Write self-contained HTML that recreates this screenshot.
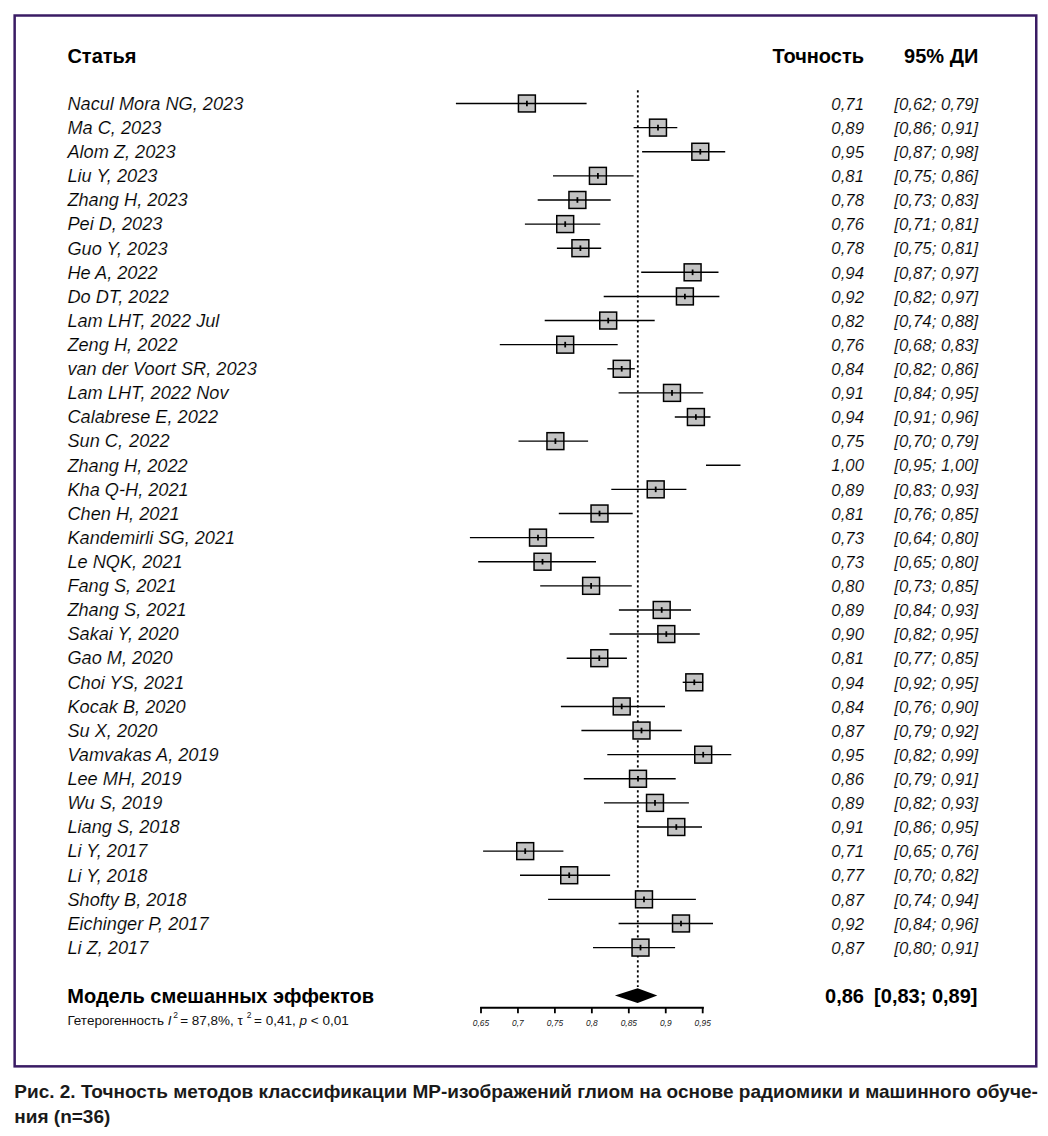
<!DOCTYPE html><html><head><meta charset="utf-8"><style>html,body{margin:0;padding:0;background:#fff;}svg{display:block}</style></head><body>
<svg width="1048" height="1136" viewBox="0 0 1048 1136">
<rect x="14.65" y="15.5" width="1021.6" height="1050.85" fill="none" stroke="#3a1c64" stroke-width="2.5"/>
<g font-family="Liberation Sans" font-weight="bold" font-size="20" fill="#000">
<text x="67.4" y="62.7">Статья</text>
<text x="864.0" y="62.7" text-anchor="end">Точность</text>
<text x="978.3" y="62.7" text-anchor="end">95% ДИ</text>
</g>
<g font-family="Liberation Sans" font-style="italic" fill="#000" stroke="#fff" stroke-width="0.15">
<text x="67.4" y="109.80" font-size="18.2">Nacul Mora NG, 2023</text>
<text x="864.0" y="109.70" font-size="16.8" text-anchor="end">0,71</text>
<text x="978.3" y="109.70" font-size="16.8" text-anchor="end">[0,62; 0,79]</text>
<text x="67.4" y="133.92" font-size="18.2">Ma C, 2023</text>
<text x="864.0" y="133.82" font-size="16.8" text-anchor="end">0,89</text>
<text x="978.3" y="133.82" font-size="16.8" text-anchor="end">[0,86; 0,91]</text>
<text x="67.4" y="158.03" font-size="18.2">Alom Z, 2023</text>
<text x="864.0" y="157.93" font-size="16.8" text-anchor="end">0,95</text>
<text x="978.3" y="157.93" font-size="16.8" text-anchor="end">[0,87; 0,98]</text>
<text x="67.4" y="182.15" font-size="18.2">Liu Y, 2023</text>
<text x="864.0" y="182.05" font-size="16.8" text-anchor="end">0,81</text>
<text x="978.3" y="182.05" font-size="16.8" text-anchor="end">[0,75; 0,86]</text>
<text x="67.4" y="206.27" font-size="18.2">Zhang H, 2023</text>
<text x="864.0" y="206.17" font-size="16.8" text-anchor="end">0,78</text>
<text x="978.3" y="206.17" font-size="16.8" text-anchor="end">[0,73; 0,83]</text>
<text x="67.4" y="230.39" font-size="18.2">Pei D, 2023</text>
<text x="864.0" y="230.28" font-size="16.8" text-anchor="end">0,76</text>
<text x="978.3" y="230.28" font-size="16.8" text-anchor="end">[0,71; 0,81]</text>
<text x="67.4" y="254.50" font-size="18.2">Guo Y, 2023</text>
<text x="864.0" y="254.40" font-size="16.8" text-anchor="end">0,78</text>
<text x="978.3" y="254.40" font-size="16.8" text-anchor="end">[0,75; 0,81]</text>
<text x="67.4" y="278.62" font-size="18.2">He A, 2022</text>
<text x="864.0" y="278.52" font-size="16.8" text-anchor="end">0,94</text>
<text x="978.3" y="278.52" font-size="16.8" text-anchor="end">[0,87; 0,97]</text>
<text x="67.4" y="302.74" font-size="18.2">Do DT, 2022</text>
<text x="864.0" y="302.64" font-size="16.8" text-anchor="end">0,92</text>
<text x="978.3" y="302.64" font-size="16.8" text-anchor="end">[0,82; 0,97]</text>
<text x="67.4" y="326.85" font-size="18.2">Lam LHT, 2022 Jul</text>
<text x="864.0" y="326.75" font-size="16.8" text-anchor="end">0,82</text>
<text x="978.3" y="326.75" font-size="16.8" text-anchor="end">[0,74; 0,88]</text>
<text x="67.4" y="350.97" font-size="18.2">Zeng H, 2022</text>
<text x="864.0" y="350.87" font-size="16.8" text-anchor="end">0,76</text>
<text x="978.3" y="350.87" font-size="16.8" text-anchor="end">[0,68; 0,83]</text>
<text x="67.4" y="375.09" font-size="18.2">van der Voort SR, 2023</text>
<text x="864.0" y="374.99" font-size="16.8" text-anchor="end">0,84</text>
<text x="978.3" y="374.99" font-size="16.8" text-anchor="end">[0,82; 0,86]</text>
<text x="67.4" y="399.20" font-size="18.2">Lam LHT, 2022 Nov</text>
<text x="864.0" y="399.10" font-size="16.8" text-anchor="end">0,91</text>
<text x="978.3" y="399.10" font-size="16.8" text-anchor="end">[0,84; 0,95]</text>
<text x="67.4" y="423.32" font-size="18.2">Calabrese E, 2022</text>
<text x="864.0" y="423.22" font-size="16.8" text-anchor="end">0,94</text>
<text x="978.3" y="423.22" font-size="16.8" text-anchor="end">[0,91; 0,96]</text>
<text x="67.4" y="447.44" font-size="18.2">Sun C,<tspan dx="1"> 2022</tspan></text>
<text x="864.0" y="447.34" font-size="16.8" text-anchor="end">0,75</text>
<text x="978.3" y="447.34" font-size="16.8" text-anchor="end">[0,70; 0,79]</text>
<text x="67.4" y="471.56" font-size="18.2">Zhang H, 2022</text>
<text x="864.0" y="471.45" font-size="16.8" text-anchor="end">1,00</text>
<text x="978.3" y="471.45" font-size="16.8" text-anchor="end">[0,95; 1,00]</text>
<text x="67.4" y="495.67" font-size="18.2">Kha Q-H, 2021</text>
<text x="864.0" y="495.57" font-size="16.8" text-anchor="end">0,89</text>
<text x="978.3" y="495.57" font-size="16.8" text-anchor="end">[0,83; 0,93]</text>
<text x="67.4" y="519.79" font-size="18.2">Chen H, 2021</text>
<text x="864.0" y="519.69" font-size="16.8" text-anchor="end">0,81</text>
<text x="978.3" y="519.69" font-size="16.8" text-anchor="end">[0,76; 0,85]</text>
<text x="67.4" y="543.91" font-size="18.2">Kandemirli SG, 2021</text>
<text x="864.0" y="543.81" font-size="16.8" text-anchor="end">0,73</text>
<text x="978.3" y="543.81" font-size="16.8" text-anchor="end">[0,64; 0,80]</text>
<text x="67.4" y="568.02" font-size="18.2">Le NQK, 2021</text>
<text x="864.0" y="567.92" font-size="16.8" text-anchor="end">0,73</text>
<text x="978.3" y="567.92" font-size="16.8" text-anchor="end">[0,65; 0,80]</text>
<text x="67.4" y="592.14" font-size="18.2">Fang S, 2021</text>
<text x="864.0" y="592.04" font-size="16.8" text-anchor="end">0,80</text>
<text x="978.3" y="592.04" font-size="16.8" text-anchor="end">[0,73; 0,85]</text>
<text x="67.4" y="616.26" font-size="18.2">Zhang S, 2021</text>
<text x="864.0" y="616.16" font-size="16.8" text-anchor="end">0,89</text>
<text x="978.3" y="616.16" font-size="16.8" text-anchor="end">[0,84; 0,93]</text>
<text x="67.4" y="640.37" font-size="18.2">Sakai Y, 2020</text>
<text x="864.0" y="640.27" font-size="16.8" text-anchor="end">0,90</text>
<text x="978.3" y="640.27" font-size="16.8" text-anchor="end">[0,82; 0,95]</text>
<text x="67.4" y="664.49" font-size="18.2">Gao M, 2020</text>
<text x="864.0" y="664.39" font-size="16.8" text-anchor="end">0,81</text>
<text x="978.3" y="664.39" font-size="16.8" text-anchor="end">[0,77; 0,85]</text>
<text x="67.4" y="688.61" font-size="18.2">Choi YS, 2021</text>
<text x="864.0" y="688.51" font-size="16.8" text-anchor="end">0,94</text>
<text x="978.3" y="688.51" font-size="16.8" text-anchor="end">[0,92; 0,95]</text>
<text x="67.4" y="712.73" font-size="18.2">Kocak B, 2020</text>
<text x="864.0" y="712.63" font-size="16.8" text-anchor="end">0,84</text>
<text x="978.3" y="712.63" font-size="16.8" text-anchor="end">[0,76; 0,90]</text>
<text x="67.4" y="736.84" font-size="18.2">Su X, 2020</text>
<text x="864.0" y="736.74" font-size="16.8" text-anchor="end">0,87</text>
<text x="978.3" y="736.74" font-size="16.8" text-anchor="end">[0,79; 0,92]</text>
<text x="67.4" y="760.96" font-size="18.2">Vamvakas A, 2019</text>
<text x="864.0" y="760.86" font-size="16.8" text-anchor="end">0,95</text>
<text x="978.3" y="760.86" font-size="16.8" text-anchor="end">[0,82; 0,99]</text>
<text x="67.4" y="785.08" font-size="18.2">Lee MH, 2019</text>
<text x="864.0" y="784.98" font-size="16.8" text-anchor="end">0,86</text>
<text x="978.3" y="784.98" font-size="16.8" text-anchor="end">[0,79; 0,91]</text>
<text x="67.4" y="809.19" font-size="18.2">Wu S, 2019</text>
<text x="864.0" y="809.09" font-size="16.8" text-anchor="end">0,89</text>
<text x="978.3" y="809.09" font-size="16.8" text-anchor="end">[0,82; 0,93]</text>
<text x="67.4" y="833.31" font-size="18.2">Liang S, 2018</text>
<text x="864.0" y="833.21" font-size="16.8" text-anchor="end">0,91</text>
<text x="978.3" y="833.21" font-size="16.8" text-anchor="end">[0,86; 0,95]</text>
<text x="67.4" y="857.43" font-size="18.2">Li Y, 2017</text>
<text x="864.0" y="857.33" font-size="16.8" text-anchor="end">0,71</text>
<text x="978.3" y="857.33" font-size="16.8" text-anchor="end">[0,65; 0,76]</text>
<text x="67.4" y="881.54" font-size="18.2">Li Y, 2018</text>
<text x="864.0" y="881.44" font-size="16.8" text-anchor="end">0,77</text>
<text x="978.3" y="881.44" font-size="16.8" text-anchor="end">[0,70; 0,82]</text>
<text x="67.4" y="905.66" font-size="18.2">Shofty B, 2018</text>
<text x="864.0" y="905.56" font-size="16.8" text-anchor="end">0,87</text>
<text x="978.3" y="905.56" font-size="16.8" text-anchor="end">[0,74; 0,94]</text>
<text x="67.4" y="929.78" font-size="18.2">Eichinger P, 2017</text>
<text x="864.0" y="929.68" font-size="16.8" text-anchor="end">0,92</text>
<text x="978.3" y="929.68" font-size="16.8" text-anchor="end">[0,84; 0,96]</text>
<text x="67.4" y="953.89" font-size="18.2">Li Z, 2017</text>
<text x="864.0" y="953.80" font-size="16.8" text-anchor="end">0,87</text>
<text x="978.3" y="953.80" font-size="16.8" text-anchor="end">[0,80; 0,91]</text>
</g>
<line x1="637.8" y1="90.3" x2="637.8" y2="987" stroke="#000" stroke-width="1.8" stroke-dasharray="2.2 2.8"/>
<rect x="518.45" y="95.05" width="16.9" height="16.9" fill="#c3c3c3" stroke="#000" stroke-width="1.5"/>
<line x1="455.9" y1="103.50" x2="586.6" y2="103.50" stroke="#000" stroke-width="1.4"/>
<line x1="526.90" y1="100.70" x2="526.90" y2="106.30" stroke="#000" stroke-width="1.8"/>
<rect x="649.55" y="119.17" width="16.9" height="16.9" fill="#c3c3c3" stroke="#000" stroke-width="1.5"/>
<line x1="633.6" y1="127.62" x2="677.3" y2="127.62" stroke="#000" stroke-width="1.4"/>
<line x1="658.00" y1="124.82" x2="658.00" y2="130.42" stroke="#000" stroke-width="1.8"/>
<rect x="691.85" y="143.28" width="16.9" height="16.9" fill="#c3c3c3" stroke="#000" stroke-width="1.5"/>
<line x1="642.1" y1="151.73" x2="725.2" y2="151.73" stroke="#000" stroke-width="1.4"/>
<line x1="700.30" y1="148.93" x2="700.30" y2="154.53" stroke="#000" stroke-width="1.8"/>
<rect x="589.45" y="167.40" width="16.9" height="16.9" fill="#c3c3c3" stroke="#000" stroke-width="1.5"/>
<line x1="553.0" y1="175.85" x2="633.6" y2="175.85" stroke="#000" stroke-width="1.4"/>
<line x1="597.90" y1="173.05" x2="597.90" y2="178.65" stroke="#000" stroke-width="1.8"/>
<rect x="568.95" y="191.52" width="16.9" height="16.9" fill="#c3c3c3" stroke="#000" stroke-width="1.5"/>
<line x1="537.7" y1="199.97" x2="610.7" y2="199.97" stroke="#000" stroke-width="1.4"/>
<line x1="577.40" y1="197.17" x2="577.40" y2="202.77" stroke="#000" stroke-width="1.8"/>
<rect x="556.75" y="215.64" width="16.9" height="16.9" fill="#c3c3c3" stroke="#000" stroke-width="1.5"/>
<line x1="524.9" y1="224.09" x2="600.3" y2="224.09" stroke="#000" stroke-width="1.4"/>
<line x1="565.20" y1="221.28" x2="565.20" y2="226.89" stroke="#000" stroke-width="1.8"/>
<rect x="571.95" y="239.75" width="16.9" height="16.9" fill="#c3c3c3" stroke="#000" stroke-width="1.5"/>
<line x1="556.9" y1="248.20" x2="601.2" y2="248.20" stroke="#000" stroke-width="1.4"/>
<line x1="580.40" y1="245.40" x2="580.40" y2="251.00" stroke="#000" stroke-width="1.8"/>
<rect x="684.15" y="263.87" width="16.9" height="16.9" fill="#c3c3c3" stroke="#000" stroke-width="1.5"/>
<line x1="641.2" y1="272.32" x2="718.5" y2="272.32" stroke="#000" stroke-width="1.4"/>
<line x1="692.60" y1="269.52" x2="692.60" y2="275.12" stroke="#000" stroke-width="1.8"/>
<rect x="676.45" y="287.99" width="16.9" height="16.9" fill="#c3c3c3" stroke="#000" stroke-width="1.5"/>
<line x1="603.7" y1="296.44" x2="719.4" y2="296.44" stroke="#000" stroke-width="1.4"/>
<line x1="684.90" y1="293.64" x2="684.90" y2="299.24" stroke="#000" stroke-width="1.8"/>
<rect x="599.75" y="312.10" width="16.9" height="16.9" fill="#c3c3c3" stroke="#000" stroke-width="1.5"/>
<line x1="544.7" y1="320.55" x2="654.7" y2="320.55" stroke="#000" stroke-width="1.4"/>
<line x1="608.20" y1="317.75" x2="608.20" y2="323.35" stroke="#000" stroke-width="1.8"/>
<rect x="556.75" y="336.22" width="16.9" height="16.9" fill="#c3c3c3" stroke="#000" stroke-width="1.5"/>
<line x1="499.8" y1="344.67" x2="617.7" y2="344.67" stroke="#000" stroke-width="1.4"/>
<line x1="565.20" y1="341.87" x2="565.20" y2="347.47" stroke="#000" stroke-width="1.8"/>
<rect x="613.25" y="360.34" width="16.9" height="16.9" fill="#c3c3c3" stroke="#000" stroke-width="1.5"/>
<line x1="607.3" y1="368.79" x2="634.8" y2="368.79" stroke="#000" stroke-width="1.4"/>
<line x1="621.70" y1="365.99" x2="621.70" y2="371.59" stroke="#000" stroke-width="1.8"/>
<rect x="663.55" y="384.45" width="16.9" height="16.9" fill="#c3c3c3" stroke="#000" stroke-width="1.5"/>
<line x1="618.6" y1="392.90" x2="703.2" y2="392.90" stroke="#000" stroke-width="1.4"/>
<line x1="672.00" y1="390.10" x2="672.00" y2="395.70" stroke="#000" stroke-width="1.8"/>
<rect x="687.45" y="408.57" width="16.9" height="16.9" fill="#c3c3c3" stroke="#000" stroke-width="1.5"/>
<line x1="674.8" y1="417.02" x2="710.5" y2="417.02" stroke="#000" stroke-width="1.4"/>
<line x1="695.90" y1="414.22" x2="695.90" y2="419.82" stroke="#000" stroke-width="1.8"/>
<rect x="546.95" y="432.69" width="16.9" height="16.9" fill="#c3c3c3" stroke="#000" stroke-width="1.5"/>
<line x1="518.5" y1="441.14" x2="588.1" y2="441.14" stroke="#000" stroke-width="1.4"/>
<line x1="555.40" y1="438.34" x2="555.40" y2="443.94" stroke="#000" stroke-width="1.8"/>
<line x1="706.0" y1="465.25" x2="740.5" y2="465.25" stroke="#000" stroke-width="1.4"/>
<rect x="647.25" y="480.92" width="16.9" height="16.9" fill="#c3c3c3" stroke="#000" stroke-width="1.5"/>
<line x1="611.3" y1="489.37" x2="686.4" y2="489.37" stroke="#000" stroke-width="1.4"/>
<line x1="655.70" y1="486.57" x2="655.70" y2="492.17" stroke="#000" stroke-width="1.8"/>
<rect x="591.05" y="505.04" width="16.9" height="16.9" fill="#c3c3c3" stroke="#000" stroke-width="1.5"/>
<line x1="558.8" y1="513.49" x2="632.7" y2="513.49" stroke="#000" stroke-width="1.4"/>
<line x1="599.50" y1="510.69" x2="599.50" y2="516.29" stroke="#000" stroke-width="1.8"/>
<rect x="529.55" y="529.16" width="16.9" height="16.9" fill="#c3c3c3" stroke="#000" stroke-width="1.5"/>
<line x1="469.9" y1="537.61" x2="594.2" y2="537.61" stroke="#000" stroke-width="1.4"/>
<line x1="538.00" y1="534.81" x2="538.00" y2="540.41" stroke="#000" stroke-width="1.8"/>
<rect x="534.05" y="553.27" width="16.9" height="16.9" fill="#c3c3c3" stroke="#000" stroke-width="1.5"/>
<line x1="478.2" y1="561.72" x2="596.0" y2="561.72" stroke="#000" stroke-width="1.4"/>
<line x1="542.50" y1="558.92" x2="542.50" y2="564.52" stroke="#000" stroke-width="1.8"/>
<rect x="582.65" y="577.39" width="16.9" height="16.9" fill="#c3c3c3" stroke="#000" stroke-width="1.5"/>
<line x1="540.2" y1="585.84" x2="631.8" y2="585.84" stroke="#000" stroke-width="1.4"/>
<line x1="591.10" y1="583.04" x2="591.10" y2="588.64" stroke="#000" stroke-width="1.8"/>
<rect x="653.25" y="601.51" width="16.9" height="16.9" fill="#c3c3c3" stroke="#000" stroke-width="1.5"/>
<line x1="618.9" y1="609.96" x2="691.0" y2="609.96" stroke="#000" stroke-width="1.4"/>
<line x1="661.70" y1="607.16" x2="661.70" y2="612.76" stroke="#000" stroke-width="1.8"/>
<rect x="657.85" y="625.62" width="16.9" height="16.9" fill="#c3c3c3" stroke="#000" stroke-width="1.5"/>
<line x1="609.5" y1="634.07" x2="699.8" y2="634.07" stroke="#000" stroke-width="1.4"/>
<line x1="666.30" y1="631.27" x2="666.30" y2="636.87" stroke="#000" stroke-width="1.8"/>
<rect x="590.85" y="649.74" width="16.9" height="16.9" fill="#c3c3c3" stroke="#000" stroke-width="1.5"/>
<line x1="566.7" y1="658.19" x2="626.9" y2="658.19" stroke="#000" stroke-width="1.4"/>
<line x1="599.30" y1="655.39" x2="599.30" y2="660.99" stroke="#000" stroke-width="1.8"/>
<rect x="685.85" y="673.86" width="16.9" height="16.9" fill="#c3c3c3" stroke="#000" stroke-width="1.5"/>
<line x1="682.7" y1="682.31" x2="703.2" y2="682.31" stroke="#000" stroke-width="1.4"/>
<line x1="694.30" y1="679.51" x2="694.30" y2="685.11" stroke="#000" stroke-width="1.8"/>
<rect x="613.25" y="697.98" width="16.9" height="16.9" fill="#c3c3c3" stroke="#000" stroke-width="1.5"/>
<line x1="560.9" y1="706.43" x2="665.0" y2="706.43" stroke="#000" stroke-width="1.4"/>
<line x1="621.70" y1="703.63" x2="621.70" y2="709.23" stroke="#000" stroke-width="1.8"/>
<rect x="633.05" y="722.09" width="16.9" height="16.9" fill="#c3c3c3" stroke="#000" stroke-width="1.5"/>
<line x1="581.4" y1="730.54" x2="681.8" y2="730.54" stroke="#000" stroke-width="1.4"/>
<line x1="641.50" y1="727.74" x2="641.50" y2="733.34" stroke="#000" stroke-width="1.8"/>
<rect x="694.75" y="746.21" width="16.9" height="16.9" fill="#c3c3c3" stroke="#000" stroke-width="1.5"/>
<line x1="607.3" y1="754.66" x2="731.3" y2="754.66" stroke="#000" stroke-width="1.4"/>
<line x1="703.20" y1="751.86" x2="703.20" y2="757.46" stroke="#000" stroke-width="1.8"/>
<rect x="629.55" y="770.33" width="16.9" height="16.9" fill="#c3c3c3" stroke="#000" stroke-width="1.5"/>
<line x1="583.8" y1="778.78" x2="675.7" y2="778.78" stroke="#000" stroke-width="1.4"/>
<line x1="638.00" y1="775.98" x2="638.00" y2="781.58" stroke="#000" stroke-width="1.8"/>
<rect x="646.55" y="794.44" width="16.9" height="16.9" fill="#c3c3c3" stroke="#000" stroke-width="1.5"/>
<line x1="604.0" y1="802.89" x2="688.9" y2="802.89" stroke="#000" stroke-width="1.4"/>
<line x1="655.00" y1="800.09" x2="655.00" y2="805.69" stroke="#000" stroke-width="1.8"/>
<rect x="667.85" y="818.56" width="16.9" height="16.9" fill="#c3c3c3" stroke="#000" stroke-width="1.5"/>
<line x1="637.0" y1="827.01" x2="702.0" y2="827.01" stroke="#000" stroke-width="1.4"/>
<line x1="676.30" y1="824.21" x2="676.30" y2="829.81" stroke="#000" stroke-width="1.8"/>
<rect x="516.75" y="842.68" width="16.9" height="16.9" fill="#c3c3c3" stroke="#000" stroke-width="1.5"/>
<line x1="483.1" y1="851.13" x2="563.4" y2="851.13" stroke="#000" stroke-width="1.4"/>
<line x1="525.20" y1="848.33" x2="525.20" y2="853.93" stroke="#000" stroke-width="1.8"/>
<rect x="560.75" y="866.79" width="16.9" height="16.9" fill="#c3c3c3" stroke="#000" stroke-width="1.5"/>
<line x1="520.0" y1="875.24" x2="610.1" y2="875.24" stroke="#000" stroke-width="1.4"/>
<line x1="569.20" y1="872.44" x2="569.20" y2="878.04" stroke="#000" stroke-width="1.8"/>
<rect x="635.55" y="890.91" width="16.9" height="16.9" fill="#c3c3c3" stroke="#000" stroke-width="1.5"/>
<line x1="548.1" y1="899.36" x2="695.9" y2="899.36" stroke="#000" stroke-width="1.4"/>
<line x1="644.00" y1="896.56" x2="644.00" y2="902.16" stroke="#000" stroke-width="1.8"/>
<rect x="672.55" y="915.03" width="16.9" height="16.9" fill="#c3c3c3" stroke="#000" stroke-width="1.5"/>
<line x1="618.6" y1="923.48" x2="713.0" y2="923.48" stroke="#000" stroke-width="1.4"/>
<line x1="681.00" y1="920.68" x2="681.00" y2="926.28" stroke="#000" stroke-width="1.8"/>
<rect x="632.05" y="939.14" width="16.9" height="16.9" fill="#c3c3c3" stroke="#000" stroke-width="1.5"/>
<line x1="593.0" y1="947.60" x2="675.1" y2="947.60" stroke="#000" stroke-width="1.4"/>
<line x1="640.50" y1="944.80" x2="640.50" y2="950.39" stroke="#000" stroke-width="1.8"/>
<polygon points="614.9,995.6 637.6,988.2 657.3,995.6 637.6,1002.9" fill="#000"/>
<line x1="480.2" y1="1007.8" x2="703.8" y2="1007.8" stroke="#000" stroke-width="1.9"/>
<line x1="481.00" y1="1007" x2="481.00" y2="1013.3" stroke="#000" stroke-width="1.8"/>
<text x="481.00" y="1025.9" font-family="Liberation Sans" font-style="italic" font-size="8.4" text-anchor="middle" fill="#222">0,65</text>
<line x1="517.95" y1="1007" x2="517.95" y2="1013.3" stroke="#000" stroke-width="1.8"/>
<text x="517.95" y="1025.9" font-family="Liberation Sans" font-style="italic" font-size="8.4" text-anchor="middle" fill="#222">0,7</text>
<line x1="554.90" y1="1007" x2="554.90" y2="1013.3" stroke="#000" stroke-width="1.8"/>
<text x="554.90" y="1025.9" font-family="Liberation Sans" font-style="italic" font-size="8.4" text-anchor="middle" fill="#222">0,75</text>
<line x1="591.85" y1="1007" x2="591.85" y2="1013.3" stroke="#000" stroke-width="1.8"/>
<text x="591.85" y="1025.9" font-family="Liberation Sans" font-style="italic" font-size="8.4" text-anchor="middle" fill="#222">0,8</text>
<line x1="628.80" y1="1007" x2="628.80" y2="1013.3" stroke="#000" stroke-width="1.8"/>
<text x="628.80" y="1025.9" font-family="Liberation Sans" font-style="italic" font-size="8.4" text-anchor="middle" fill="#222">0,85</text>
<line x1="665.75" y1="1007" x2="665.75" y2="1013.3" stroke="#000" stroke-width="1.8"/>
<text x="665.75" y="1025.9" font-family="Liberation Sans" font-style="italic" font-size="8.4" text-anchor="middle" fill="#222">0,9</text>
<line x1="702.70" y1="1007" x2="702.70" y2="1013.3" stroke="#000" stroke-width="1.8"/>
<text x="702.70" y="1025.9" font-family="Liberation Sans" font-style="italic" font-size="8.4" text-anchor="middle" fill="#222">0,95</text>
<text x="67.3" y="1003.1" font-family="Liberation Sans" font-weight="bold" font-size="20" fill="#000">Модель смешанных эффектов</text>
<text x="864.0" y="1003.3" font-family="Liberation Sans" font-weight="bold" font-size="20" text-anchor="end" fill="#000">0,86</text>
<text x="977.5" y="1003.3" font-family="Liberation Sans" font-weight="bold" font-size="20" text-anchor="end" fill="#000">[0,83; 0,89]</text>
<text x="67.4" y="1025.3" font-family="Liberation Sans" font-size="13.5" fill="#111">Гетерогенность <tspan font-style="italic">I</tspan><tspan font-size="8.5" dx="1.9" dy="-7">2</tspan><tspan dy="7" dx="-1.7"> = 87,8%, τ</tspan><tspan font-size="8.5" dx="3.8" dy="-7">2</tspan><tspan dy="7" dx="-1.1"> = 0,41, </tspan><tspan font-style="italic">p</tspan> &lt; 0,01</text>
<g font-family="Liberation Sans" font-weight="bold" font-size="19" fill="#1a1a1a">
<text x="14.3" y="1098.4">Рис. 2. Точность методов классификации МР-изображений глиом на основе радиомики и машинного обуче-</text>
<text x="14.3" y="1122.8">ния (n=36)</text>
</g>
</svg></body></html>
